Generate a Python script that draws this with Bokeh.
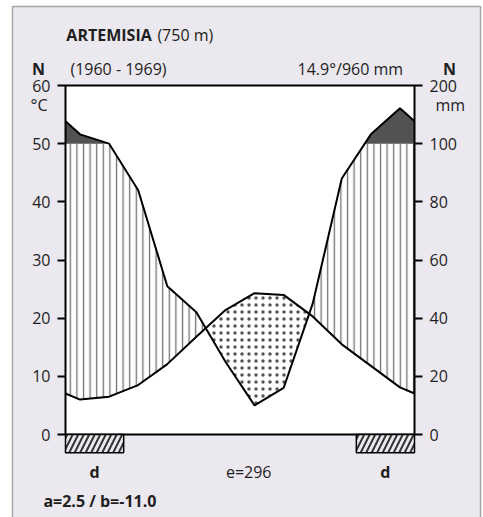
import numpy as np
from bokeh.plotting import figure
from bokeh.models import Range1d, LinearAxis, FixedTicker
from bokeh.core.properties import value
from bokeh.embed import file_html
from bokeh.resources import INLINE

# ---------------- data ----------------
months = ["Jan", "Feb", "Mar", "Apr", "May", "Jun", "Jul", "Aug", "Sep", "Oct", "Nov", "Dec"]
temperature_c = [6.0, 6.5, 8.5, 12.1, 16.8, 21.4, 24.3, 24.0, 20.3, 15.5, 11.8, 8.1]
precipitation_mm = [116, 100, 84, 51, 42, 25, 10, 16, 45, 88, 116, 161]
probable_frost = [1, 1, 0, 0, 0, 0, 0, 0, 0, 0, 1, 1]
left_ticks_c = [0, 10, 20, 30, 40, 50, 60]
right_ticks_mm = [0, 20, 40, 60, 80, 100, 200]

station = "ARTEMISIA"
altitude = "(750 m)"
period = "(1960 - 1969)"
annual = "14.9°/960 mm"
evaporation = "e=296"
coefficients = "a=2.5 / b=-11.0"
frost_label = "d"

# ---------------- helpers ----------------
def mm_to_c(mm):
    mm = np.asarray(mm, dtype=float)
    return np.where(mm <= 100, mm / 2.0, 50 + (mm - 100) / 10.0)

n = len(months)
xs = np.array([0.0] + [i + 0.5 for i in range(n)] + [float(n)])
t_edge = (temperature_c[0] + temperature_c[-1]) / 2
p_edge = (precipitation_mm[0] + precipitation_mm[-1]) / 2
T = np.array([t_edge] + temperature_c + [t_edge])
P = mm_to_c([p_edge] + precipitation_mm + [p_edge])

# add crossing points (P = 50 and T = P) so fills meet exactly
cross = []
for i in range(len(xs) - 1):
    x0, x1 = xs[i], xs[i + 1]
    for a0, a1 in [(P[i] - 50, P[i + 1] - 50), (P[i] - T[i], P[i + 1] - T[i + 1])]:
        if a0 * a1 < 0:
            cross.append(x0 + (x1 - x0) * a0 / (a0 - a1))
xf = np.unique(np.concatenate([xs, cross]))
Tf = np.interp(xf, xs, T)
Pf = np.interp(xf, xs, P)
Pcap = np.minimum(Pf, 50)

BG = "#ece8ef"
INK = "#1e1e1e"
FONT = "Open Sans"
FS = "16px"

W, H = 483, 517
# frame covers the whole canvas; diagram box 0..12 x 0..60 sits at px 65..414 / 85..434
kx = 349 / 12.0
ky = 349 / 60.0
x0r, x1r = -65 / kx, 12 + (W - 414) / kx
y1r, y0r = 60 + 85 / ky, -(H - 434) / ky

p = figure(width=W, height=H, x_range=Range1d(x0r, x1r), y_range=Range1d(y0r, y1r),
           output_backend="svg", toolbar_location=None,
           x_axis_type=None, y_axis_type=None,
           min_border_left=0, min_border_right=0, min_border_top=0, min_border_bottom=0)
p.background_fill_color = "white"
p.border_fill_color = "white"
p.outline_line_color = None
p.grid.visible = False

# panel background
p.quad(left=-53 / kx, right=12 + 66 / kx, bottom=y0r - 5, top=60 + 79 / ky,
       fill_color=BG, line_color="#a5a5a5", line_width=1.5, level="underlay")

# white diagram box
p.quad(left=0, right=12, bottom=0, top=60, fill_color="white", line_color=None)

# very humid (> 100 mm)
p.varea(x=xf, y1=np.full_like(xf, 50.0), y2=np.maximum(Pf, 50), fill_color="#525252")
# humid period (vertical hatch)
p.varea(x=xf, y1=Tf, y2=np.maximum(Pcap, Tf), fill_color="white", fill_alpha=0,
        hatch_pattern="|", hatch_color="#707070", hatch_scale=6.6, hatch_weight=1.3)
# arid period (dots)
p.varea(x=xf, y1=Pf, y2=np.maximum(Tf, Pf), fill_color="white", fill_alpha=0,
        hatch_pattern=".", hatch_color="#555555", hatch_scale=7, hatch_weight=0.4)

# curves
p.line(xs, T, line_color="black", line_width=2)
p.line(xs, P, line_color="black", line_width=2)

# box outline
p.quad(left=0, right=12, bottom=0, top=60, fill_color=None, line_color="black", line_width=2)

# probable frost bars (merge consecutive months)
runs = []
i = 0
while i < n:
    if probable_frost[i]:
        j = i
        while j + 1 < n and probable_frost[j + 1]:
            j += 1
        runs.append((i, j + 1))
        i = j + 1
    else:
        i += 1
for a, b in runs:
    p.quad(left=a, right=b, top=0, bottom=-3.15, fill_color=BG, line_color="black", line_width=1.5,
           hatch_pattern="/", hatch_color="#333333", hatch_scale=11, hatch_weight=2)

def lab(x, y, text, align="left", bold=False):
    p.text(x=[x], y=[y], text=[text], text_align=align, text_baseline="middle",
           text_font=value(FONT), text_font_size=FS, text_color=INK,
           text_font_style="bold" if bold else "normal")

for a, b in runs:
    lab((a + b) / 2, -6.5, frost_label, align="center", bold=True)

# axes fixed to the diagram box edges
common = dict(axis_line_color=None, major_tick_in=0, major_tick_out=8, major_tick_line_color="black",
              major_tick_line_width=2, minor_tick_line_color=None, major_label_standoff=7,
              major_label_text_font=FONT, major_label_text_font_size=FS, major_label_text_color=INK)
yl = LinearAxis(ticker=FixedTicker(ticks=left_ticks_c), fixed_location=0, **common)
p.add_layout(yl, "left")
rpos = [float(v) for v in mm_to_c(right_ticks_mm)]
yr = LinearAxis(ticker=FixedTicker(ticks=rpos), fixed_location=12,
                major_label_overrides={k: str(v) for k, v in zip(rpos, right_ticks_mm)}, **common)
p.add_layout(yr, "right")

lab(0.03, 68.6, station, bold=True)
lab(3.16, 68.6, altitude)
lab(-0.93, 62.9, "N", align="center", bold=True)
lab(13.2, 62.9, "N", align="center", bold=True)
lab(0.17, 62.9, period)
lab(11.61, 62.9, annual, align="right")
lab(-0.62, 56.7, "°C", align="right")
lab(12.72, 56.6, "mm")
lab(6.3, -6.5, evaporation, align="center")
lab(-0.76, -11.5, coefficients, bold=True)

open("out.html", "w").write(file_html(p, INLINE))
